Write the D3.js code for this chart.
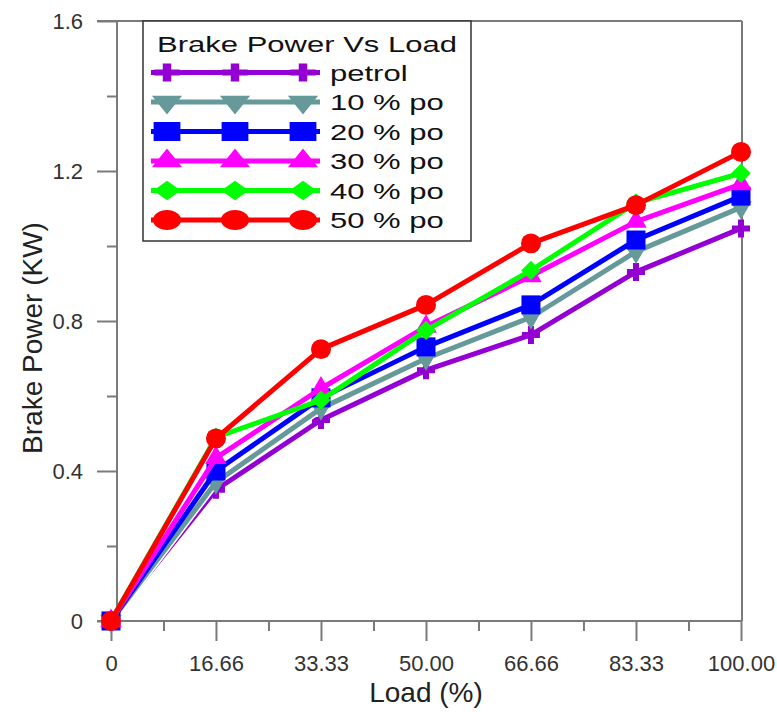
<!DOCTYPE html>
<html lang="en">
<head>
<meta charset="utf-8">
<script src="https://d3js.org/d3.v7.min.js"></script>
<style>
  body { margin: 0; background: #fff; }
  text { font-family: "Liberation Sans", Arial, sans-serif; }
</style>
</head>
<body>
<script>
// data
const loads = [0, 16.66, 33.33, 50.00, 66.66, 83.33, 100.00];
const loadLabels = ["0", "16.66", "33.33", "50.00", "66.66", "83.33", "100.00"];
const yTicks = [0, 0.4, 0.8, 1.2, 1.6];
const yTickLabels = ["0", "0.4", "0.8", "1.2", "1.6"];

const petrol = [0, 0.35, 0.536, 0.669, 0.763, 0.931, 1.047];
const po10   = [0, 0.37, 0.567, 0.700, 0.810, 0.985, 1.103];
const po20   = [0, 0.40, 0.595, 0.731, 0.843, 1.016, 1.133];
const po30   = [0, 0.435, 0.620, 0.785, 0.920, 1.065, 1.165];
const po40   = [0, 0.49, 0.589, 0.775, 0.935, 1.115, 1.194];
const po50   = [0, 0.487, 0.725, 0.843, 1.007, 1.109, 1.251];

const seriesNames = ["petrol", "10 % po", "20 % po", "30 % po", "40 % po", "50 % po"];
const seriesValues = [petrol, po10, po20, po30, po40, po50];
const seriesColors = ["#9400d3", "#66999a", "#0000ff", "#ff00ff", "#00ff00", "#ff0000"];

const width = 777, height = 712;

// custom diamond, size = area
const diamond = {
  draw(ctx, size) {
    const r = Math.sqrt(size / 2);
    ctx.moveTo(0, -r); ctx.lineTo(r, 0); ctx.lineTo(0, r); ctx.lineTo(-r, 0); ctx.closePath();
  }
};
const triDown = {
  draw(ctx, size) {
    const s = Math.sqrt(size * 4 / Math.sqrt(3)), h = s * Math.sqrt(3) / 2;
    ctx.moveTo(-s / 2, -h / 3); ctx.lineTo(s / 2, -h / 3); ctx.lineTo(0, 2 * h / 3); ctx.closePath();
  }
};
const triUp = {
  draw(ctx, size) {
    const s = Math.sqrt(size * 4 / Math.sqrt(3)), h = s * Math.sqrt(3) / 2;
    ctx.moveTo(-s / 2, h / 3); ctx.lineTo(s / 2, h / 3); ctx.lineTo(0, -2 * h / 3); ctx.closePath();
  }
};
const markers = [
  d3.symbol(d3.symbolCross, 180),
  d3.symbol(triDown, 200),
  d3.symbol(d3.symbolSquare, 361),
  d3.symbol(triUp, 200),
  d3.symbol(diamond, 190),
  d3.symbol(d3.symbolCircle, 314)
];

const svg = d3.select("body").append("svg")
  .attr("width", width).attr("height", height);

const x = d3.scaleLinear().domain([0, 100]).range([111, 741]);
const y = d3.scaleLinear().domain([0, 1.6]).range([621, 21]);
const axisX = x(0) + 6;   // y axis line sits a bit right of load 0

const axisColor = "#7a7a7a";

// x axis ticks
const xMinor = d3.pairs(loads).map(p => (p[0] + p[1]) / 2);
const gx = svg.append("g").attr("transform", `translate(0,${y(0)})`)
  .call(d3.axisBottom(x).tickValues(loads).tickFormat((d, i) => loadLabels[i])
    .tickSize(20).tickPadding(14));
const gxm = svg.append("g").attr("transform", `translate(0,${y(0)})`)
  .call(d3.axisBottom(x).tickValues(xMinor).tickFormat("").tickSize(10));

// y axis ticks
const yMinor = d3.pairs(yTicks).map(p => (p[0] + p[1]) / 2);
const gy = svg.append("g").attr("transform", `translate(${axisX},0)`)
  .call(d3.axisLeft(y).tickValues(yTicks).tickFormat((d, i) => yTickLabels[i])
    .tickSize(20).tickPadding(14));
const gym = svg.append("g").attr("transform", `translate(${axisX},0)`)
  .call(d3.axisLeft(y).tickValues(yMinor).tickFormat("").tickSize(10));

[gx, gxm, gy, gym].forEach(g => {
  g.select(".domain").remove();
  g.selectAll("line").attr("stroke", axisColor).attr("stroke-width", 2);
  g.selectAll("text").attr("fill", "#333").attr("font-size", 22)
    .attr("font-family", "'Liberation Sans', Arial, sans-serif");
});

// frame
const frame = svg.append("g").attr("stroke", axisColor).attr("stroke-width", 2).attr("fill", "none");
frame.append("line").attr("x1", axisX).attr("x2", axisX).attr("y1", y(1.6)).attr("y2", y(0));
frame.append("line").attr("x1", axisX - 20).attr("x2", x(100) + 1).attr("y1", y(0)).attr("y2", y(0));
frame.append("line").attr("x1", axisX - 20).attr("x2", x(100) + 1).attr("y1", y(1.6)).attr("y2", y(1.6));
frame.append("line").attr("x1", x(100) + 1).attr("x2", x(100) + 1).attr("y1", y(1.6)).attr("y2", y(0));

// series
const line = d3.line().x((d, i) => x(loads[i])).y(d => y(d));
seriesValues.forEach((vals, k) => {
  const g = svg.append("g");
  if (k === 1) {
    g.append("path").attr("d", line(vals)).attr("fill", "none")
      .attr("stroke", "#fff").attr("stroke-width", 8);
  }
  g.append("path").attr("d", line(vals)).attr("fill", "none")
    .attr("stroke", seriesColors[k]).attr("stroke-width", 5).attr("stroke-linejoin", "round");
  g.selectAll("path.m").data(vals).join("path").attr("class", "m")
    .attr("transform", (d, i) => `translate(${x(loads[i])},${y(d)})`)
    .attr("d", markers[k]())
    .attr("fill", seriesColors[k]);
});

// legend
const lx = 143, ly = y(1.6), lw = 328, lh = 220;
const leg = svg.append("g");
leg.append("rect").attr("x", lx).attr("y", ly).attr("width", lw).attr("height", lh)
  .attr("fill", "#fff").attr("stroke", "#333").attr("stroke-width", 1.5);
leg.append("text").attr("transform", `translate(${lx + 164},${ly + 31}) scale(1.41,1)`)
  .attr("text-anchor", "middle").attr("font-size", 22).attr("fill", "#111")
  .text("Brake Power Vs Load");
const rowY = i => 72.5 + i * 29.5;
seriesNames.forEach((name, k) => {
  const ry = rowY(k);
  leg.append("line").attr("x1", 151).attr("x2", 320).attr("y1", ry).attr("y2", ry)
    .attr("stroke", seriesColors[k]).attr("stroke-width", 5);
  [167, 235, 303].forEach(mx => {
    leg.append("path").attr("transform", `translate(${mx},${ry}) scale(1.41,1)`)
      .attr("d", markers[k]()).attr("fill", seriesColors[k]);
  });
  leg.append("text").attr("transform", `translate(330,${ry + 8}) scale(1.41,1)`)
    .attr("font-size", 22).attr("fill", "#111").text(name);
});

// axis titles
svg.append("text").attr("x", 426).attr("y", 702).attr("text-anchor", "middle")
  .attr("font-size", 28).attr("fill", "#222").text("Load (%)");
svg.append("text").attr("transform", `translate(42,${338}) rotate(-90)`)
  .attr("text-anchor", "middle").attr("font-size", 28).attr("fill", "#222")
  .text("Brake Power (KW)");
</script>
</body>
</html>
